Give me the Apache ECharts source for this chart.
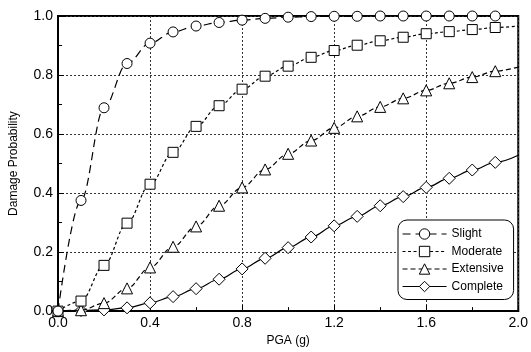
<!DOCTYPE html>
<html><head><meta charset="utf-8">
<script src="https://cdn.jsdelivr.net/npm/echarts@6/dist/echarts.min.js"></script>
<style>html,body{margin:0;padding:0;background:#fff;}#c{width:531px;height:352px;}</style>
</head><body><div id="c"></div>
<script>
var pga = [0.0,0.1,0.2,0.3,0.4,0.5,0.6,0.7,0.8,0.9,1.0,1.1,1.2,1.3,1.4,1.5,1.6,1.7,1.8,1.9,2.0];
var slight    = [0,0.375,0.689,0.839,0.908,0.946,0.966,0.978,0.986,0.992,0.996,0.998,0.999,0.999,1.0,1.0,1.0,1.0,1.0,1.0,1.0];
var moderate  = [0,0.034,0.155,0.298,0.430,0.538,0.626,0.696,0.752,0.796,0.830,0.860,0.883,0.901,0.916,0.928,0.940,0.947,0.954,0.961,0.966];
var extensive = [0,0.003,0.027,0.077,0.148,0.218,0.287,0.357,0.419,0.480,0.533,0.578,0.621,0.660,0.692,0.721,0.748,0.772,0.793,0.813,0.827];
var complete  = [0,0.002,0.004,0.011,0.028,0.049,0.076,0.108,0.143,0.179,0.215,0.251,0.289,0.321,0.357,0.388,0.419,0.450,0.478,0.504,0.528];
var names = ['Slight','Moderate','Extensive','Complete'];
var symbols = ['circle','rect','triangle','diamond'];
var dashes = [[8,5],[3,2.5],[5,3],'solid'];

function pts(vals){
  return pga.map(function(x,i){
    var d = {value:[x, vals[i]]};
    if (i === pga.length-1) d.symbol = 'none';
    return d;
  });
}
var allVals = [slight, moderate, extensive, complete];
var series = names.map(function(n,k){
  return {
    name:n, type:'line', data:pts(allVals[k]), smooth:0.35, smoothMonotone:'x',
    symbol:symbols[k], symbolSize:(k===3?12:(k===2?11:10)),
    showAllSymbol:true, clip:true,
    lineStyle:{color:'#000', width:1.2, type:dashes[k]},
    itemStyle:{color:'#fff', borderColor:'#000', borderWidth:1},
    z: 10-k
  };
});
var chart = echarts.init(document.getElementById('c'));
chart.setOption({
  animation:false,
  backgroundColor:'#fff',
  grid:{left:55, right:12, top:16, bottom:38, show:true, borderColor:'#000', borderWidth:2, backgroundColor:'transparent'},
  legend:{
    orient:'vertical', left:398, top:220, width:114,
    data:names, itemWidth:44, itemHeight:13, itemGap:5.5,
    backgroundColor:'#fff', borderColor:'#000', borderWidth:1, borderRadius:9,
    padding:[8,10,7,4],
    lineStyle:{width:1.1, color:'#000'},
    itemStyle:{borderWidth:1, color:'#fff', borderColor:'#000'},
    textStyle:{fontFamily:'Liberation Sans', fontSize:12, color:'#000'}
  },
  xAxis:{
    type:'value', min:0, max:2, interval:0.4,
    name:'PGA (g)', nameLocation:'middle', nameGap:21,
    nameTextStyle:{fontFamily:'Liberation Sans', fontSize:12, color:'#000'},
    axisLine:{lineStyle:{color:'#000', width:2}},
    axisTick:{inside:true, length:6, lineStyle:{color:'#000', width:1}},
    minorTick:{show:true, splitNumber:2, length:4, lineStyle:{color:'#000', width:1}},
    axisLabel:{margin:5, fontFamily:'Liberation Sans', fontSize:14, color:'#000', formatter:function(v){return v.toFixed(1);}},
    splitLine:{show:true, lineStyle:{color:'#333', width:1, type:[2,2]}}
  },
  yAxis:{
    type:'value', min:0, max:1, interval:0.2,
    name:'Damage Probability', nameLocation:'middle', nameGap:38,
    nameTextStyle:{fontFamily:'Liberation Sans', fontSize:12, color:'#000'},
    axisLine:{lineStyle:{color:'#000', width:2}},
    axisTick:{inside:true, length:6, lineStyle:{color:'#000', width:1}},
    minorTick:{show:true, splitNumber:2, length:4, lineStyle:{color:'#000', width:1}},
    axisLabel:{margin:5, fontFamily:'Liberation Sans', fontSize:14, color:'#000', formatter:function(v){return v.toFixed(1);}},
    splitLine:{show:true, lineStyle:{color:'#333', width:1, type:[2,2]}}
  },
  series:series
});
</script></body></html>
